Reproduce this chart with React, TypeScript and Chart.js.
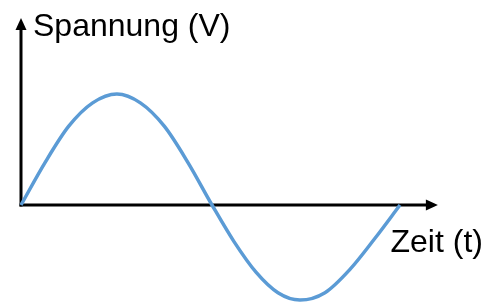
import React, { useEffect, useRef } from "react";
import { Chart, registerables } from "chart.js";

Chart.register(...registerables);

// Time (one full period = 1) and voltage (positive peak = 1)
const timeValues = [0, 0.063, 0.126, 0.189, 0.253, 0.315, 0.378, 0.441, 0.504, 0.562, 0.62, 0.678, 0.736, 0.802, 0.868, 0.934, 1.0];
const voltageValues = [0, 0.38, 0.71, 0.92, 1.0, 0.92, 0.71, 0.38, 0, -0.33, -0.605, -0.79, -0.856, -0.79, -0.58, -0.3, 0];

const yAxisLabel = "Spannung (V)";
const xAxisLabel = "Zeit (t)";

// axis extents in data units
const xAxisEnd = 1.1;
const yAxisEnd = 1.685;

const W = 494;
const H = 303;

const axesPlugin = {
  id: "arrowAxes",
  beforeDatasetsDraw(chart: any) {
    const { ctx, scales } = chart;
    const xs = scales.x;
    const ys = scales.y;
    const x0 = xs.getPixelForValue(0);
    const y0 = ys.getPixelForValue(0);
    const xEnd = xs.getPixelForValue(xAxisEnd);
    const yEnd = ys.getPixelForValue(yAxisEnd);
    const lw = 3;
    const head = 12;
    const half = 5.5;
    ctx.save();
    ctx.strokeStyle = "#000";
    ctx.fillStyle = "#000";
    ctx.lineWidth = lw;
    ctx.lineCap = "butt";
    ctx.beginPath();
    ctx.moveTo(x0 - lw / 2, y0);
    ctx.lineTo(xEnd - head + 1, y0);
    ctx.stroke();
    ctx.beginPath();
    ctx.moveTo(xEnd, y0);
    ctx.lineTo(xEnd - head, y0 - half);
    ctx.lineTo(xEnd - head, y0 + half);
    ctx.closePath();
    ctx.fill();
    ctx.beginPath();
    ctx.moveTo(x0, y0 + lw / 2);
    ctx.lineTo(x0, yEnd + head - 1);
    ctx.stroke();
    ctx.beginPath();
    ctx.moveTo(x0, yEnd);
    ctx.lineTo(x0 - half, yEnd + head);
    ctx.lineTo(x0 + half, yEnd + head);
    ctx.closePath();
    ctx.fill();
    ctx.restore();
  },
  afterDatasetsDraw(chart: any) {
    const { ctx, scales } = chart;
    const xs = scales.x;
    const ys = scales.y;
    const x0 = xs.getPixelForValue(0);
    const y0 = ys.getPixelForValue(0);
    const yEnd = ys.getPixelForValue(yAxisEnd);
    ctx.save();
    ctx.fillStyle = "#000";
    ctx.font = "32px 'Liberation Sans', Arial, sans-serif";
    ctx.textBaseline = "alphabetic";
    ctx.textAlign = "left";
    ctx.fillText(yAxisLabel, x0 + 12, yEnd + 18);
    ctx.fillText(xAxisLabel, xs.getPixelForValue(0.975), y0 + 47);
    ctx.restore();
  },
};

export default function App() {
  const ref = useRef<HTMLCanvasElement | null>(null);
  useEffect(() => {
    if (!ref.current) return;
    const chart = new Chart(ref.current, {
      type: "line",
      data: {
        datasets: [
          {
            data: timeValues.map((t, i) => ({ x: t, y: voltageValues[i] })),
            borderColor: "#5B9BD5",
            borderWidth: 3.5,
            pointRadius: 0,
            cubicInterpolationMode: "monotone",
            fill: false,
            clip: false as any,
          },
        ],
      },
      options: {
        animation: false,
        responsive: false,
        maintainAspectRatio: false,
        devicePixelRatio: 1,
        layout: { padding: 0 },
        plugins: { legend: { display: false }, tooltip: { enabled: false }, title: { display: false } },
        events: [],
        scales: {
          x: { type: "linear", min: -21 / 379, max: 473 / 379, display: false },
          y: { type: "linear", min: -98 / 111, max: 205 / 111, display: false },
        },
      },
      plugins: [axesPlugin],
    });
    return () => chart.destroy();
  }, []);
  return (
    <div style={{ position: "absolute", left: 0, top: 0, width: W, height: H, background: "#fff" }}>
      <canvas ref={ref} width={W} height={H} style={{ width: W, height: H, display: "block" }} />
    </div>
  );
}
